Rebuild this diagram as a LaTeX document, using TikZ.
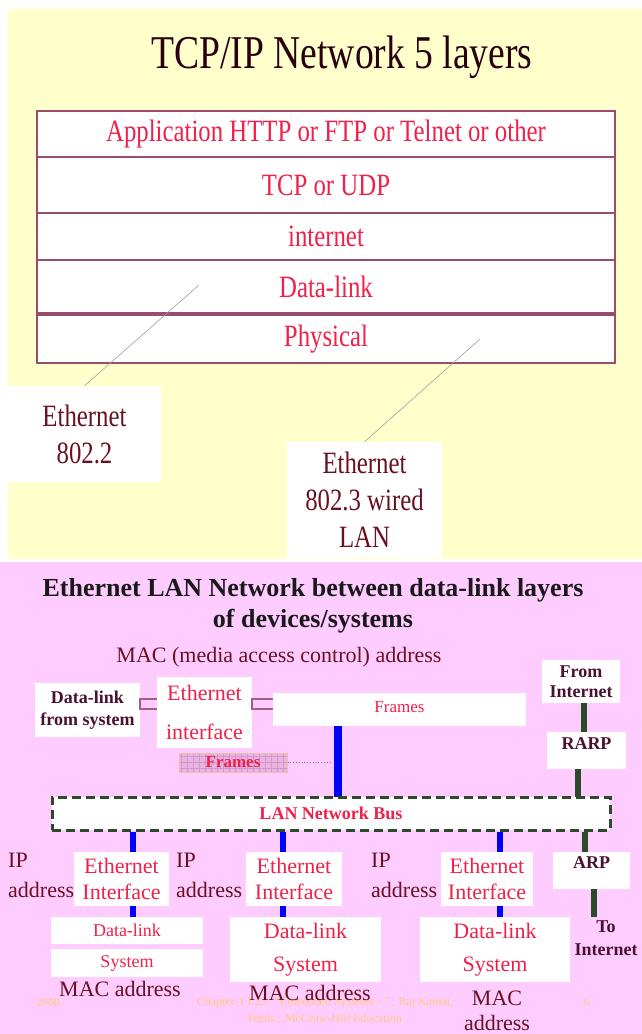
\documentclass[tikz,border=0pt]{standalone}
\usepackage{fontspec}
\setmainfont{Liberation Serif}
\newfontfamily\condfont[FakeStretch=0.8]{Liberation Serif}
\usetikzlibrary{calc}
\definecolor{ybg}{HTML}{FFFFCC}
\definecolor{pbg}{HTML}{FFCCFF}
\definecolor{tabline}{HTML}{9C4A6E}
\definecolor{redtxt}{HTML}{F0204A}
\definecolor{darktxt}{HTML}{6A1020}
\definecolor{titletxt}{HTML}{2A0010}
\definecolor{boldtxt}{HTML}{4A1030}
\definecolor{busgreen}{HTML}{2A4A2A}
\definecolor{footc}{HTML}{FFC880}
\definecolor{gridfill}{HTML}{E8B4E2}
\definecolor{gridln}{HTML}{D496CC}
\definecolor{gridborder}{HTML}{F2C0A0}
\definecolor{brk}{HTML}{A06080}
\begin{document}
\begin{tikzpicture}[x=1pt,y=-1pt,
  wbox/.style={fill=white, draw=none, inner sep=0pt, align=center},
  layer/.style={draw=tabline, line width=1.5pt, fill=white, minimum width=578pt, inner sep=0pt, text=redtxt, font=\fontsize{31}{37}\selectfont\condfont},
  toplbl/.style={wbox, text=darktxt, font=\fontsize{31}{37}\selectfont\condfont},
  callout/.style={draw=gray!75, line width=0.6pt},
  blueline/.style={draw=blue, line width=6pt},
  greenline/.style={draw=busgreen, line width=6pt},
  bracket/.style={draw=brk, line width=1.5pt},
  redmid/.style={text=redtxt, font=\fontsize{22}{26}\selectfont},
  boldlbl/.style={text=boldtxt, font=\fontsize{18}{20}\selectfont\bfseries},
  daddr/.style={text=darktxt, align=left, font=\fontsize{22}{30}\selectfont, inner sep=0pt},
  foot/.style={text=footc, font=\fontsize{12}{15}\selectfont, inner sep=0pt}
]
\useasboundingbox (0,0) rectangle (642,1034);
\fill[white] (0,0) rectangle (642,1034);
% ---------- top panel ----------
\fill[ybg] (8,9) rectangle (642,559);
\node[text=titletxt, font=\fontsize{47}{50}\selectfont\condfont] (title) at (342,57) {TCP/IP Network 5 layers};
\node[layer, minimum height=46pt] (app) at (326,134) {Application HTTP or FTP or Telnet or other};
\node[layer, minimum height=56pt] (tcp) at (326,185) {TCP or UDP};
\node[layer, minimum height=47pt] (inet) at (326,236.5) {internet};
\node[layer, minimum height=53pt] (dlink) at (326,286.5) {Data-link};
\node[layer, minimum height=48pt] (phys) at (326,339) {Physical};
\node[toplbl, minimum width=153pt, minimum height=96pt] (e8022) at (84.5,434) {Ethernet\\802.2};
\node[toplbl, minimum width=155pt, minimum height=116pt] (e8023) at (364.5,500) {Ethernet\\802.3 wired\\LAN};
\coordinate (c1) at (199,285);
\coordinate (c2) at (480,339);
\draw[callout] (c1) -- (e8022.north);
\draw[callout] (c2) -- (e8023.north);
% ---------- bottom panel ----------
\fill[pbg] (0,562) rectangle (642,1034);
\node[align=center, text=black!90, font=\fontsize{26}{31}\selectfont\bfseries] (btitle) at (313,605.5) {Ethernet LAN Network between data-link layers\\of devices/systems};
\node[text=darktxt, font=\fontsize{22}{26}\selectfont] (mac) at (279,657) {MAC (media access control) address};
% footer
\node[foot] (f1) at (48,1003) {2008};
\node[foot] (f2) at (325,1003) {Chapter-1 L23: ``Embedded Systems - '' , Raj Kamal,};
\node[foot] (f3) at (325,1018) {Publs.: McGraw-Hill Education};
\node[foot] (f4) at (587,1003) {6};
% upper row
\node[wbox, boldlbl, minimum width=105pt, minimum height=54pt, font=\fontsize{18}{22}\selectfont\bfseries] (dfs) at (87.5,710) {Data-link\\from system};
\node[wbox, text=redtxt, minimum width=95pt, minimum height=71pt, font=\fontsize{22}{39}\selectfont] (ei) at (204.5,712.5) {Ethernet\\interface};
\node[wbox, text=redtxt, minimum width=253pt, minimum height=33pt, font=\fontsize{17}{20}\selectfont] (frm) at (399.5,709.5) {\raisebox{5pt}{Frames}};
\draw[bracket] (ei.west |- 0,699) -- (dfs.east |- 0,699) -- (dfs.east |- 0,709) -- (ei.west |- 0,709);
\draw[bracket] (frm.west |- 0,699) -- (ei.east |- 0,699) -- (ei.east |- 0,709) -- (frm.west |- 0,709);
\node[minimum width=108pt, minimum height=19pt, inner sep=0pt, fill=gridfill, draw=gridborder, line width=1pt, text=redtxt, font=\fontsize{17}{19}\selectfont\bfseries,
  path picture={\draw[gridln, line width=0.5pt, step=6pt] (path picture bounding box.south west) grid (path picture bounding box.north east);}] (sfrm) at (233,762.5) {Frames};
\coordinate (dotend) at (331,762.5);
\draw[dotted, gray, line width=0.8pt] (sfrm.east) -- (dotend);
% right column
\node[wbox, boldlbl, minimum width=78pt, minimum height=43pt] (fromi) at (581,681.5) {From\\Internet};
\node[wbox, minimum width=79pt, minimum height=37pt, label={[boldlbl, yshift=7pt]center:RARP}] (rarp) at (586.5,750.5) {};
\node[wbox, minimum width=77pt, minimum height=37pt, label={[boldlbl, yshift=7.5pt]center:ARP}] (arp) at (591.5,870.5) {};
\node[boldlbl, align=center, inner sep=0pt, font=\fontsize{18}{23}\selectfont\bfseries] (toi) at (606,938.5) {To\\Internet};
\coordinate (g1) at (584,0);
\coordinate (g2) at (578,0);
\coordinate (g3) at (585,0);
\coordinate (toend) at (594,917);
\draw[greenline] (fromi.south -| g1) -- (rarp.north -| g1);
\draw[greenline] (rarp.south -| g2) -- (0,797 -| g2);
% bus
\coordinate (bx0) at (338,0);
\draw[blueline, line width=8pt] (frm.south -| bx0) -- (0,797 -| bx0);
\node[fill=white, draw=busgreen, line width=3pt, dash pattern=on 9pt off 5pt, minimum width=558pt, minimum height=33pt, inner sep=0pt, text=redtxt, font=\fontsize{18}{20}\selectfont\bfseries] (bus) at (331,813.5) {LAN Network Bus};
\draw[greenline] (bus.south -| g3) -- (arp.north -| g3);
\draw[greenline] (arp.south -| toend) -- (toend);
% lower row
\node[daddr, anchor=west] (ip1) at (8,875) {IP\\address};
\node[daddr, anchor=west] (ip2) at (176,875) {IP\\address};
\node[daddr, anchor=west] (ip3) at (371,875) {IP\\address};
\node[wbox, redmid, minimum width=95pt, minimum height=54pt] (ei1) at (121.5,879) {Ethernet\\Interface};
\node[wbox, redmid, minimum width=96pt, minimum height=54pt] (ei2) at (294,879) {Ethernet\\Interface};
\node[wbox, redmid, minimum width=92pt, minimum height=54pt] (ei3) at (487,879) {Ethernet\\Interface};
\node[wbox, text=redtxt, font=\fontsize{18}{20}\selectfont, minimum width=152pt, minimum height=27pt] (dl1) at (127,930.5) {Data-link};
\node[wbox, text=redtxt, font=\fontsize{18}{20}\selectfont, minimum width=152pt, minimum height=28pt] (sys1) at (127,963) {System};
\node[wbox, text=redtxt, font=\fontsize{22}{33}\selectfont, minimum width=151pt, minimum height=65pt] (dl2) at (305.5,949.5) {Data-link\\System};
\node[wbox, text=redtxt, font=\fontsize{22}{33}\selectfont, minimum width=150pt, minimum height=65pt] (dl3) at (495,949.5) {Data-link\\System};
\coordinate (b1) at (133,0);
\coordinate (b2) at (283,0);
\coordinate (b3) at (500,0);
\draw[blueline] (bus.south -| b1) -- (ei1.north -| b1);
\draw[blueline] (bus.south -| b2) -- (ei2.north -| b2);
\draw[blueline] (bus.south -| b3) -- (ei3.north -| b3);
\draw[blueline] (ei1.south -| b1) -- (dl1.north -| b1);
\draw[blueline] (ei2.south -| b2) -- (dl2.north -| b2);
\draw[blueline] (ei3.south -| b3) -- (dl3.north -| b3);
\node[text=darktxt, font=\fontsize{22}{25}\selectfont, inner sep=0pt] (mac1) at (120,989) {MAC address};
\node[text=darktxt, font=\fontsize{22}{25}\selectfont, inner sep=0pt] (mac2) at (310,993) {MAC address};
\node[text=darktxt, align=center, font=\fontsize{22}{25}\selectfont, inner sep=0pt] (mac3) at (497,1011) {MAC\\address};
\end{tikzpicture}
\end{document}
